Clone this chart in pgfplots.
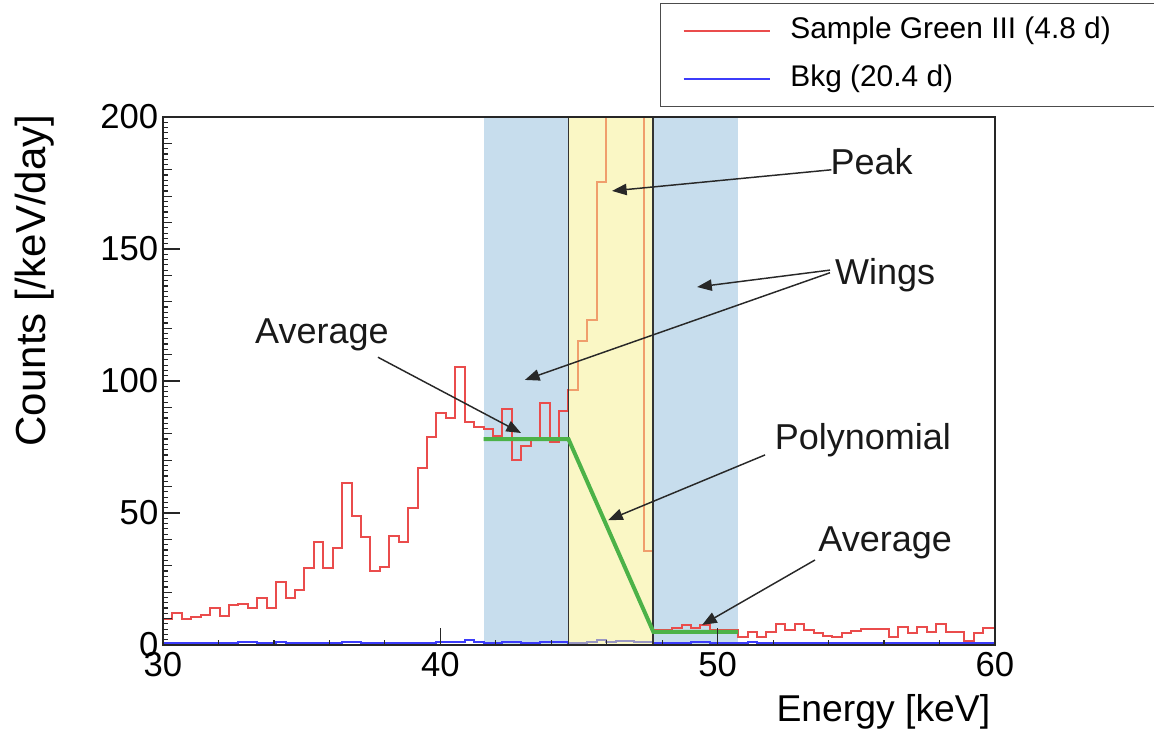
\documentclass[border=0pt]{standalone}
\usepackage{fontspec}
\setmainfont{Liberation Sans}
\usepackage{pgfplots}
\pgfplotsset{compat=1.18}
\usetikzlibrary{arrows.meta}

\definecolor{histred}{RGB}{234,76,76}
\definecolor{bkgblue}{RGB}{60,60,250}
\definecolor{bandblue}{RGB}{199,221,237}
\definecolor{peakyellow}{RGB}{246,240,140}
\definecolor{fitgreen}{RGB}{76,178,72}
\definecolor{annot}{RGB}{40,40,40}

\begin{document}
\begin{tikzpicture}
\begin{axis}[
  name=ax,
  scale only axis, width=624pt, height=396pt,
  xmin=30, xmax=60, ymin=0, ymax=200,
  axis on top,
  axis line style={black!85, line width=1.1pt},
  tick style={black!85, line width=0.9pt},
  tick align=inside,
  tick pos=left,
  xtick={30,40,50,60},
  minor x tick num=4,
  ytick={0,50,...,200},
  minor ytick={0,2,...,200},
  extra y ticks={10,20,30,40,60,70,80,90,110,120,130,140,160,170,180,190},
  extra y tick labels={},
  extra y tick style={major tick length=7pt},
  major tick length=13pt,
  minor tick length=4pt,
  ticklabel style={font=\fontsize{26}{30}\selectfont},
  /pgf/number format/assume math mode=true,
  xticklabel style={inner sep=0pt, yshift=-5pt},
  xlabel={Energy [keV]},
  ylabel={Counts [/keV/day]},
  xlabel style={at={(rel axis cs:1,-0.1458)}, anchor=base east, font=\fontsize{28}{32}\selectfont},
  ylabel style={at={(rel axis cs:-0.141,1.013)}, anchor=base east, font=\fontsize{31.5}{35}\selectfont},
  legend style={at={(rel axis cs:0.5974,1.2159)}, anchor=north west,
    draw=black!70, line width=1pt, fill=white,
    font=\fontsize{22.4}{26}\selectfont,
    inner xsep=16.5pt, inner ysep=10pt, row sep=15pt, column sep=15pt,
    nodes={inner sep=0pt, text height=16pt, text depth=5pt}},
  legend cell align=left,
  legend image code/.code={\draw[#1, line width=1.3pt] (0pt,0pt) -- (64.5pt,0pt);},
]

% side bands (wings)
\addplot[fill=bandblue, draw=none, forget plot] coordinates {(41.56,200) (44.62,200)} \closedcycle;
\addplot[fill=bandblue, draw=none, forget plot] coordinates {(47.68,200) (50.74,200)} \closedcycle;

% sample spectrum, 0.34 keV bins (left edges)
\addplot[const plot mark left, histred, line width=1.5pt] coordinates {
(30.00,10.0) (30.34,12.1) (30.68,9.8) (31.02,10.6) (31.36,11.5) (31.70,14.0)
(32.04,10.8) (32.38,15.0) (32.72,15.7) (33.06,14.0) (33.40,17.7) (33.74,14.0)
(34.08,23.9) (34.42,17.9) (34.76,20.8) (35.10,29.3) (35.44,39.2) (35.78,29.1)
(36.12,36.6) (36.46,61.5) (36.80,48.9) (37.14,40.8) (37.48,28.2) (37.82,29.7)
(38.16,41.4) (38.50,38.9) (38.84,51.9) (39.18,67.0) (39.52,78.7) (39.86,87.7)
(40.20,85.8) (40.54,105.3) (40.88,84.5) (41.22,82.5) (41.56,81.7) (41.90,79.3)
(42.24,89.3) (42.58,70.0) (42.92,75.4) (43.26,78.3) (43.60,91.5) (43.94,77.0)
(44.28,88.7) (44.62,96.6) (44.96,115.0) (45.30,123.0) (45.64,175.4) (45.98,260)
(46.32,420) (46.66,390) (47.00,250) (47.34,35.7) (47.68,5.7) (48.02,5.7)
(48.36,6.6) (48.70,7.6) (49.04,6.6) (49.38,7.6) (49.72,5.7) (50.06,5.7)
(50.40,5.7) (50.74,3.2) (51.08,5.0) (51.42,3.2) (51.76,5.0) (52.10,7.8)
(52.44,5.7) (52.78,7.8) (53.12,5.7) (53.46,4.4) (53.80,3.4) (54.14,3.0)
(54.48,4.5) (54.82,5.4) (55.16,5.9) (55.50,6.2) (55.84,6.2) (56.18,3.2)
(56.52,6.9) (56.86,4.6) (57.20,6.9) (57.54,5.0) (57.88,7.9) (58.22,5.0)
(58.56,5.0) (58.90,1.5) (59.24,4.5) (59.58,6.3) (59.92,6.5) (60.26,6.5)
};
\addlegendentry{Sample Green III (4.8 d)\hspace*{40pt}}

% background spectrum
\addplot[const plot mark left, bkgblue, line width=1.5pt] coordinates {
(30.00,0.9) (30.68,0.7) (31.36,0.9) (32.04,0.8) (32.72,1.0) (33.40,0.9)
(34.08,1.3) (34.42,0.8) (35.10,0.9) (35.78,0.7) (36.46,1.0) (37.14,0.8)
(37.82,0.9) (38.50,0.7) (39.18,0.9) (39.86,1.0) (40.54,1.2) (40.88,2.0)
(41.22,1.3) (41.56,0.9) (42.24,1.0) (42.92,0.8) (43.60,1.0) (44.28,1.3)
(44.62,0.9) (45.30,1.1) (45.64,2.0) (45.98,1.2) (46.32,1.7) (46.66,1.6)
(47.00,1.0) (47.68,0.9) (48.36,0.8) (49.04,1.0) (49.72,0.8) (50.40,0.9)
(51.08,1.2) (51.42,0.8) (52.10,0.9) (52.78,0.7) (53.46,0.9) (54.14,0.8)
(54.82,0.9) (55.50,0.7) (56.18,0.9) (56.86,0.8) (57.54,0.9) (58.22,0.7)
(58.90,0.9) (59.58,0.8) (60.26,0.8)
};
\addlegendentry{Bkg (20.4 d)}

% peak window
\addplot[fill=peakyellow, fill opacity=0.5, draw=none, forget plot] coordinates {(44.62,200) (47.68,200)} \closedcycle;
\addplot[draw=black!80, line width=1.3pt, forget plot] coordinates {(44.62,0) (44.62,200) (47.68,200) (47.68,0)};

% continuum estimate: wing averages joined by a polynomial
\addplot[fitgreen, line width=3pt, forget plot] coordinates {(41.56,78) (44.62,78) (47.68,5) (50.74,5)};

% annotations
\begin{scope}[every node/.style={font=\fontsize{27}{31}\selectfont, text=black!90},
  arr/.style={annot, line width=1.1pt, -{Triangle[length=11pt,width=8.5pt]}}]
\node at (axis cs:55.55,183) {Peak};
\draw[arr] (axis cs:54.1,180) -- (axis cs:46.19,172);
\node at (axis cs:56.04,140.2) {Wings};
\draw[arr] (axis cs:54.05,142) -- (axis cs:49.26,135.6);
\draw[arr] (axis cs:54.05,141) -- (axis cs:43.05,100.4);
\node at (axis cs:35.73,117.4) {Average};
\draw[arr] (axis cs:37.75,109) -- (axis cs:42.91,80.3);
\node at (axis cs:55.24,77.7) {Polynomial};
\draw[arr] (axis cs:51.71,72) -- (axis cs:46.05,47.3);
\node at (axis cs:56.04,38.6) {Average};
\draw[arr] (axis cs:53.51,32.2) -- (axis cs:49.44,7.6);
\end{scope}
\end{axis}
\pgfresetboundingbox
\path[use as bounding box] ([shift={(-122.25pt,-75pt)}]ax.south west) rectangle ([shift={(743.25pt,483.75pt)}]ax.south west);
\end{tikzpicture}
\end{document}
